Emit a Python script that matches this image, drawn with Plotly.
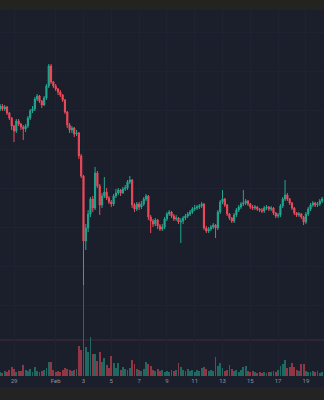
import pandas as pd
import plotly.graph_objects as go

# 4-hour candles, starting 28 Jan
times = pd.date_range("2025-01-28 00:00", periods=140, freq="4h")

opens = [291,294,291,293,287,282,274,269,279,276,
         273,271,274,282,289,291,301,304,299,295,
         302,314,334,318,314,311,308,305,300,288,
         275,270,272,266,267,244,224,159,172,186,
         201,192,227,214,195,204,208,202,198,196,
         204,207,210,207,211,212,218,220,195,191,
         196,193,196,201,204,183,179,176,180,174,
         171,173,181,186,188,184,181,182,178,179,
         182,184,186,188,191,192,193,194,196,172,
         169,171,173,175,172,188,198,201,195,186,
         182,179,185,190,193,196,197,199,196,193,
         192,193,191,190,189,192,193,191,192,187,
         184,185,194,201,205,201,197,192,187,185,
         186,183,178,186,191,195,197,195,196,199]

highs = [296,296,295,294,288,283,275,281,281,277,
         275,276,284,291,294,303,306,305,300,304,
         316,336,336,319,316,312,310,306,301,289,
         277,274,273,270,268,246,225,176,190,203,
         204,233,229,216,207,223,212,204,200,206,
         211,212,211,213,215,220,224,221,197,198,
         198,199,203,206,205,185,181,182,181,176,
         176,183,188,190,189,186,185,183,182,184,
         186,188,190,193,195,195,196,198,197,174,
         173,175,177,176,190,200,210,202,196,187,
         183,187,192,195,198,210,201,200,197,195,
         195,194,192,192,194,195,194,194,193,188,
         187,196,203,220,207,202,198,193,188,188,
         187,184,188,193,197,199,198,198,201,203]

lows = [289,289,289,285,280,270,258,267,274,270,
        260,268,272,280,287,289,299,297,292,294,
        300,312,316,312,309,305,303,298,286,272,
        267,267,263,264,241,222,115,150,168,183,
        188,190,212,185,192,202,200,196,193,194,
        202,205,204,206,209,210,216,192,188,189,
        190,191,194,199,180,167,173,174,171,169,
        169,171,179,184,182,179,179,176,157,176,
        180,182,184,186,189,190,191,192,170,167,
        167,169,171,162,170,186,196,193,184,180,
        177,177,183,188,191,194,195,194,191,190,
        190,189,188,187,187,190,189,189,185,182,
        182,183,192,199,199,195,190,185,183,183,
        181,175,176,184,189,193,193,193,194,197]

closes = [294,291,293,287,282,274,269,279,276,273,
          271,274,282,289,291,301,304,299,295,302,
          314,334,318,314,311,308,305,300,288,275,
          270,272,266,267,244,224,159,172,186,201,
          192,227,214,195,204,208,202,198,196,204,
          207,210,207,211,212,218,220,195,191,196,
          193,196,201,204,183,179,176,180,174,171,
          173,181,186,188,184,181,182,178,179,182,
          184,186,188,191,192,193,194,196,172,169,
          171,173,175,172,188,198,201,195,186,182,
          179,185,190,193,196,197,199,196,193,192,
          193,191,190,189,192,193,191,192,187,184,
          185,194,201,205,201,197,192,187,185,186,
          183,178,186,191,195,197,195,196,199,201]

volumes = [4,3,5,4,6,9,7,4,5,5,
           11,6,5,7,4,9,5,4,5,6,
           8,14,14,6,4,5,4,6,8,7,
           6,5,6,7,30,26,91,29,24,39,
           22,22,15,24,14,18,11,8,20,13,
           8,13,6,9,7,6,8,16,12,7,
           6,5,7,14,12,10,6,5,7,5,
           6,4,5,4,6,5,6,13,9,6,
           5,7,5,6,4,6,5,8,9,7,
           5,6,5,19,10,13,8,5,6,11,
           7,5,6,4,6,9,10,5,4,5,
           4,3,4,3,4,3,4,4,5,4,
           6,10,12,16,8,9,13,9,6,5,
           12,12,5,4,4,5,4,5,3,4]

tick_dates = ["2025-01-29", "2025-02-01", "2025-02-03", "2025-02-05", "2025-02-07",
              "2025-02-09", "2025-02-11", "2025-02-13", "2025-02-15", "2025-02-17",
              "2025-02-19"]
tick_labels = ["29", "Feb", "3", "5", "7", "9", "11", "13", "15", "17", "19"]

grid_prices = [368, 329, 290, 251, 212, 173, 134, 95]
alert_price = 60

UP = "#22a68f"
DOWN = "#ef4a5a"
UP_VOL = "rgba(34,166,143,0.55)"
DOWN_VOL = "rgba(239,74,90,0.55)"
GRID = "#1f2331"

vol_colors = [UP_VOL if c >= o else DOWN_VOL for o, c in zip(opens, closes)]

fig = go.Figure()
fig.add_trace(go.Bar(
    x=times, y=volumes, marker_color=vol_colors, marker_line_width=0,
    width=4 * 3600 * 1000 * 0.8, yaxis="y2", hoverinfo="skip"))
fig.add_trace(go.Candlestick(
    x=times, open=opens, high=highs, low=lows, close=closes,
    increasing=dict(line=dict(color=UP, width=1), fillcolor=UP),
    decreasing=dict(line=dict(color=DOWN, width=1), fillcolor=DOWN),
    whiskerwidth=0, yaxis="y"))

fig.update_layout(
    width=324, height=400,
    margin=dict(l=0, r=0, t=0, b=0),
    paper_bgcolor="#232323",
    plot_bgcolor="rgba(0,0,0,0)",
    showlegend=False,
    bargap=0,
    xaxis=dict(
        type="date",
        range=["2025-01-27 23:50", "2025-02-20 07:14"],
        rangeslider=dict(visible=False),
        tickvals=tick_dates, ticktext=tick_labels,
        tickfont=dict(family="Roboto", size=6, color="#8f939c"),
        ticks="", showline=False, zeroline=False,
        showgrid=True, gridcolor=GRID, gridwidth=1,
        anchor="y",
    ),
    yaxis=dict(
        domain=[0.06, 0.975], range=[24, 390],
        tickvals=grid_prices, showticklabels=False,
        showgrid=True, gridcolor=GRID, gridwidth=1,
        zeroline=False, showline=False,
    ),
    yaxis2=dict(
        overlaying="y", range=[0, 366], visible=False,
        showgrid=False, zeroline=False,
    ),
    shapes=[
        dict(type="rect", xref="paper", yref="paper", x0=0, x1=1, y0=0.975, y1=1,
             fillcolor="#23241f", line_width=0, layer="below"),
        dict(type="rect", xref="paper", yref="paper", x0=0, x1=1, y0=13 / 400, y1=0.975,
             fillcolor="#1b1f2b", line_width=0, layer="below"),
        dict(type="line", xref="paper", yref="y", x0=0, x1=1,
             y0=alert_price, y1=alert_price,
             line=dict(color="rgba(239,74,90,0.22)", width=1), layer="below"),
    ],
)

fig.write_html("out.html")
